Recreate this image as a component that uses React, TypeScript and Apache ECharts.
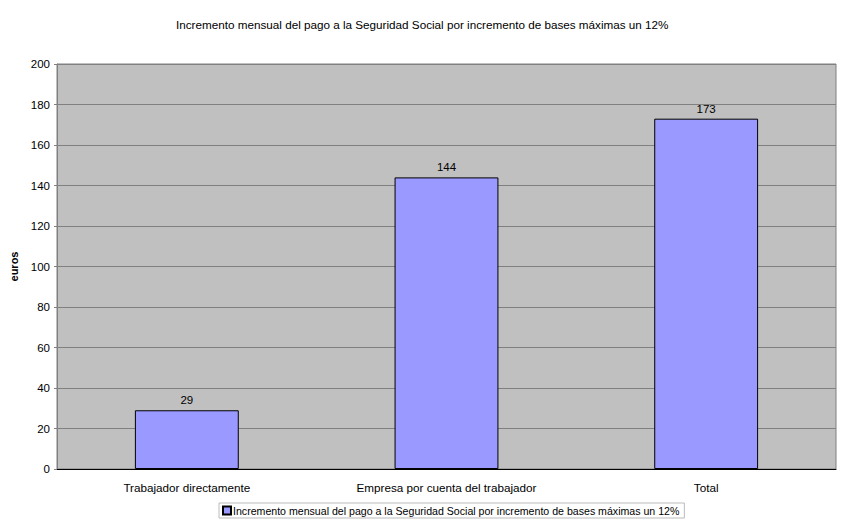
import React, { useEffect, useRef } from "react";
import * as echarts from "echarts";

const titleText = "Incremento mensual del pago a la Seguridad Social por incremento de bases máximas un 12%";
const categories = ["Trabajador directamente", "Empresa por cuenta del trabajador", "Total"];
const values = [29, 144, 173];
const seriesName = "Incremento mensual del pago a la Seguridad Social por incremento de bases máximas un 12%";
const yAxisName = "euros";

export default function App() {
  const ref = useRef<HTMLDivElement>(null);
  useEffect(() => {
    const chart = echarts.init(ref.current!, null, { renderer: "svg" });
    const font = "Liberation Sans, Arial, sans-serif";
    chart.setOption({
      animation: false,
      backgroundColor: "#ffffff",
      textStyle: { fontFamily: font },
      title: {
        text: titleText,
        left: 163,
        top: 5,
        textStyle: { fontSize: 11.7, fontWeight: "normal", color: "#000", fontFamily: font },
      },
      grid: {
        left: 49,
        right: 8,
        top: 56,
        bottom: 54,
        show: true,
        backgroundColor: "#C0C0C0",
        borderColor: "#808080",
        borderWidth: 1,
        containLabel: false,
        outerBoundsMode: "none",
      },
      legend: {
        bottom: 5,
        left: 211,
        data: [seriesName],
        icon: "rect",
        itemWidth: 8,
        itemHeight: 8,
        itemGap: 2,
        padding: [2, 5, 2, 3],
        borderColor: "#bbbbbb",
        borderWidth: 1,
        textStyle: { fontSize: 10.6, color: "#000", fontFamily: font, padding: [0, 0, 0, -3] },
      },
      xAxis: {
        type: "category",
        data: categories,
        axisLine: { lineStyle: { color: "#000", width: 1 } },
        axisTick: { show: false },
        axisLabel: { color: "#000", fontSize: 11.7, margin: 12, fontFamily: font },
      },
      yAxis: {
        type: "value",
        min: 0,
        max: 200,
        interval: 20,
        name: yAxisName,
        nameLocation: "middle",
        nameGap: 32,
        nameTextStyle: { fontSize: 11, fontWeight: "bold", color: "#000", fontFamily: font },
        axisLine: { show: true, lineStyle: { color: "#808080" } },
        axisTick: { show: true, length: 3, lineStyle: { color: "#808080" } },
        axisLabel: { color: "#000", fontSize: 11.5, margin: 7, fontFamily: font },
        splitLine: { lineStyle: { color: "#808080", width: 1 } },
      },
      series: [
        {
          name: seriesName,
          type: "bar",
          data: values,
          barWidth: "40%",
          itemStyle: { color: "#9999FF", borderColor: "#000000", borderWidth: 1 },
          label: { show: true, position: "top", color: "#000", fontSize: 11.5, distance: 4, fontFamily: font },
        },
      ],
    });
    return () => chart.dispose();
  }, []);
  return <div ref={ref} style={{ width: 836, height: 515 }} />;
}
